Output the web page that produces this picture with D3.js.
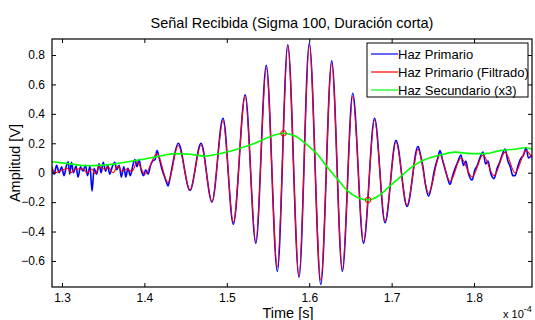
<!DOCTYPE html>
<html><head><meta charset="utf-8">
<script src="https://cdn.jsdelivr.net/npm/d3@7/dist/d3.min.js"></script>
<style>
body{margin:0;background:#fff;}
text{font-family:"Liberation Sans",Arial,sans-serif;fill:#000;}
</style></head>
<body><svg id="c" width="535" height="320"></svg>
<script>
// time in units of 1e-4 s
const xTicks = [1.3, 1.4, 1.5, 1.6, 1.7, 1.8];
const yTicks = [-0.6, -0.4, -0.2, 0, 0.2, 0.4, 0.6, 0.8];
const legendLabels = ["Haz Primario", "Haz Primario (Filtrado)", "Haz Secundario (x3)"];

const primaryFiltered = [
 [1.2879,0.034],[1.2915,0.0],[1.2976,0.012],[1.3073,0.03],[1.3109,0.0],[1.3158,0.025],[1.3255,0.025],
 [1.3303,0.0],[1.3364,0.025],[1.3400,-0.005],[1.3461,0.04],[1.3522,0.022],[1.3558,0.04],[1.3619,0.0],
 [1.3680,0.045],[1.3728,0.01],[1.3789,0.025],[1.3850,0.008],[1.3910,0.073],[1.4007,-0.01],[1.4153,0.13],
 [1.4286,-0.068],[1.4411,0.185],[1.4553,-0.118],[1.4687,0.188],[1.4820,-0.199],[1.4954,0.355],[1.5079,-0.337],
 [1.5223,0.518],[1.5352,-0.47],[1.5479,0.712],[1.5613,-0.642],[1.5740,0.862],[1.5876,-0.702],[1.6001,0.868],
 [1.6140,-0.73],[1.6273,0.744],[1.6402,-0.657],[1.6528,0.517],[1.6659,-0.47],[1.6793,0.36],[1.6920,-0.33],
 [1.7053,0.21],[1.7187,-0.22],[1.7320,0.16],[1.7448,-0.14],[1.7587,0.12],[1.7709,-0.06],[1.7842,0.1],
 [1.7976,-0.03],[1.8109,0.12],[1.8243,-0.02],[1.8376,0.14],[1.8498,0.0],[1.8632,0.15],[1.8703,0.1]
];

const primaryRaw = [
 [1.2879,0.04],[1.2905,-0.01],[1.2935,0.05],[1.2965,0.0],[1.2995,0.04],[1.3025,-0.02],[1.3055,0.05],[1.3075,0.075],
 [1.3095,-0.01],[1.3115,0.07],[1.3140,0.0],[1.3170,0.045],[1.3195,-0.03],[1.3225,0.04],[1.3255,0.01],[1.3285,0.05],
 [1.3310,-0.02],[1.3340,0.045],[1.3365,-0.125],[1.3390,0.03],[1.3420,-0.01],[1.3450,0.06],[1.3475,0.0],[1.3500,0.07],
 [1.3530,0.01],[1.3555,0.05],[1.3580,-0.01],[1.3610,0.04],[1.3640,0.07],[1.3665,0.02],[1.3695,0.05],[1.3720,-0.03],
 [1.3750,0.04],[1.3775,-0.03],[1.3800,0.03],[1.3830,-0.02],[1.3860,0.05],[1.3885,0.09],[1.3910,0.04],[1.3935,0.09],
 [1.3960,0.02],[1.3990,-0.02],[1.4015,0.02],[1.4045,-0.01],[1.4075,0.05],[1.4100,0.08],[1.4130,0.09],[1.4153,0.15],
 [1.4180,0.10],[1.4210,0.03],[1.4240,-0.02],[1.4265,-0.06],[1.4286,-0.09],[1.4310,-0.04],[1.4340,0.05],
 [1.4411,0.2],[1.4553,-0.12],[1.4687,0.2],[1.4820,-0.2],[1.4954,0.37],[1.5079,-0.35],[1.5223,0.53],[1.5352,-0.48],
 [1.5479,0.73],[1.5613,-0.67],[1.5740,0.87],[1.5876,-0.71],[1.6001,0.88],[1.6140,-0.76],[1.6273,0.76],[1.6402,-0.67],
 [1.6528,0.54],[1.6659,-0.48],[1.6793,0.37],[1.6920,-0.34],[1.7053,0.22],[1.7187,-0.23],[1.7320,0.18],[1.7350,0.12],
 [1.7380,0.04],[1.7410,-0.08],[1.7448,-0.16],[1.7480,-0.10],[1.7520,0.02],[1.7560,0.10],[1.7587,0.15],[1.7620,0.08],
 [1.7650,0.02],[1.7680,-0.04],[1.7709,-0.08],[1.7740,-0.02],[1.7770,0.03],[1.7800,0.07],[1.7842,0.12],[1.7870,0.05],
 [1.7900,0.08],[1.7930,0.0],[1.7976,-0.05],[1.8010,0.02],[1.8040,0.05],[1.8070,0.10],[1.8109,0.14],[1.8140,0.06],
 [1.8170,0.08],[1.8200,0.0],[1.8243,-0.04],[1.8280,0.03],[1.8310,0.07],[1.8340,0.12],[1.8376,0.16],[1.8410,0.08],
 [1.8440,0.04],[1.8470,-0.02],[1.8498,-0.02],[1.8530,0.04],[1.8560,0.09],[1.8600,0.12],[1.8632,0.17],[1.8660,0.10],
 [1.8703,0.12]
];

const secondary = [
 [1.2879,0.075],[1.3097,0.06],[1.3291,0.047],[1.3461,0.05],[1.3643,0.06],[1.3862,0.08],[1.4068,0.10],[1.4250,0.12],
 [1.4371,0.13],[1.4553,0.125],[1.4735,0.113],[1.4917,0.13],[1.5124,0.16],[1.5342,0.2],[1.5524,0.245],[1.5688,0.268],
 [1.5828,0.25],[1.5973,0.19],[1.6107,0.12],[1.6216,0.04],[1.6337,-0.04],[1.6459,-0.12],[1.6592,-0.17],[1.6714,-0.185],
 [1.6836,-0.16],[1.6981,-0.09],[1.7102,-0.03],[1.7248,0.04],[1.7405,0.09],[1.7587,0.12],[1.7769,0.14],[1.7952,0.13],
 [1.8134,0.13],[1.8316,0.15],[1.8498,0.16],[1.8619,0.17],[1.8703,0.16]
];

const markers = [[1.5688,0.268],[1.6714,-0.185]];

const xDomain = [1.2879, 1.8703];
const yDomain = [-0.777, 0.909];

const svg = d3.select("#c");
const L = 52, R = 532, T = 39, B = 287;
const x = d3.scaleLinear().domain(xDomain).range([L, R]);
const y = d3.scaleLinear().domain(yDomain).range([B, T]);

svg.append("clipPath").attr("id","clp").append("rect")
  .attr("x",L).attr("y",T).attr("width",R-L).attr("height",B-T);

const plot = svg.append("g").attr("clip-path","url(#clp)");
const line = d3.line().x(d=>x(d[0])).y(d=>y(d[1])).curve(d3.curveMonotoneX);

plot.append("path").datum(primaryRaw).attr("d",line).attr("fill","none")
  .attr("stroke","#0000ff").attr("stroke-width",1.6);
plot.append("path").datum(primaryFiltered).attr("d",line).attr("fill","none")
  .attr("stroke","#ff0000").attr("stroke-width",1.1);
plot.append("path").datum(secondary).attr("d",line).attr("fill","none")
  .attr("stroke","#00ff00").attr("stroke-width",1.6);
plot.selectAll("circle.m").data(markers).enter().append("circle")
  .attr("cx",d=>x(d[0])).attr("cy",d=>y(d[1])).attr("r",2.8)
  .attr("fill","none").attr("stroke","#ff0000").attr("stroke-width",1);

// axes (MATLAB style, ticks inside, box)
const tl = 4;
const gx = svg.append("g").attr("transform",`translate(0,${B})`)
  .call(d3.axisBottom(x).tickValues(xTicks).tickSizeInner(-tl).tickSizeOuter(0).tickPadding(6).tickFormat(d3.format(".1f")));
const gxt = svg.append("g").attr("transform",`translate(0,${T})`)
  .call(d3.axisTop(x).tickValues(xTicks).tickSizeInner(-tl).tickSizeOuter(0).tickFormat(""));
const gy = svg.append("g").attr("transform",`translate(${L},0)`)
  .call(d3.axisLeft(y).tickValues(yTicks).tickSizeInner(-tl).tickSizeOuter(0).tickPadding(7)
    .tickFormat(d=> d===0 ? "0" : d3.format(".1f")(d)));
const gyr = svg.append("g").attr("transform",`translate(${R},0)`)
  .call(d3.axisRight(y).tickValues(yTicks).tickSizeInner(-tl).tickSizeOuter(0).tickFormat(""));
[gx,gxt,gy,gyr].forEach(g=>{
  g.select(".domain").remove();
  g.selectAll("line").attr("stroke","#000");
  g.selectAll("text").attr("font-size",12).attr("font-family","Liberation Sans, Arial, sans-serif").attr("fill","#000");
});
gx.selectAll("text").attr("dy","0.71em");
svg.append("rect").attr("x",L).attr("y",T).attr("width",R-L).attr("height",B-T)
  .attr("fill","none").attr("stroke","#000").attr("stroke-width",1.2);

// titles
svg.append("text").attr("x",292).attr("y",28).attr("text-anchor","middle").attr("font-size",14.5)
  .text("Señal Recibida (Sigma 100, Duración corta)");
svg.append("text").attr("x",288).attr("y",318).attr("text-anchor","middle").attr("font-size",14.5)
  .text("Time [s]");
svg.append("text").attr("transform","translate(20,163) rotate(-90)").attr("text-anchor","middle").attr("font-size",14.5)
  .text("Amplitud [V]");
const ex = svg.append("text").attr("x",503).attr("y",318).attr("font-size",11);
ex.append("tspan").text("x 10");
ex.append("tspan").attr("dy",-6).attr("font-size",9).text("-4");

// legend
const lg = svg.append("g");
lg.append("rect").attr("x",367).attr("y",43).attr("width",161).attr("height",54)
  .attr("fill","#fff").attr("stroke","#000").attr("stroke-width",1);
const lcol = ["#0000ff","#ff0000","#00ff00"];
legendLabels.forEach((s,i)=>{
  const yy = 54 + i*18;
  lg.append("line").attr("x1",371).attr("x2",398).attr("y1",yy).attr("y2",yy)
    .attr("stroke",lcol[i]).attr("stroke-width",1.2);
  lg.append("text").attr("x",398).attr("y",yy+4.5).attr("font-size",13).text(s);
});
</script></body></html>
